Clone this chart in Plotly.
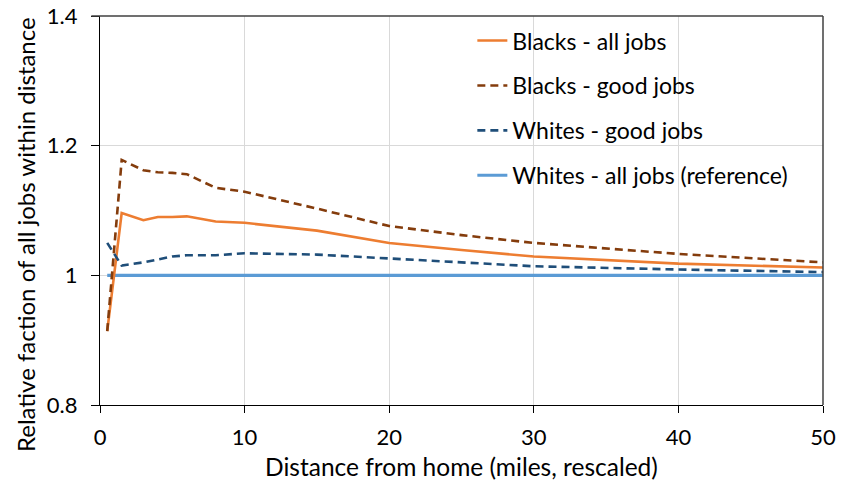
import plotly.graph_objects as go

# Distance from home (miles, rescaled)
distance = [0.5, 1.5, 3, 4, 5, 6, 8, 10, 15, 20, 25, 30, 40, 50]

# Relative faction of all jobs within distance (whites - all jobs = 1)
blacks_all = [0.914, 1.096, 1.085, 1.090, 1.090, 1.091, 1.083, 1.081, 1.069, 1.050, 1.039, 1.029, 1.018, 1.012]
blacks_good = [0.914, 1.178, 1.162, 1.159, 1.158, 1.156, 1.135, 1.129, 1.103, 1.076, 1.062, 1.050, 1.033, 1.020]
whites_good = [1.050, 1.015, 1.020, 1.025, 1.029, 1.031, 1.031, 1.034, 1.032, 1.026, 1.020, 1.014, 1.009, 1.005]
whites_all = [1.0] * len(distance)

x_ticks = [0, 10, 20, 30, 40, 50]
y_ticks = [0.8, 1.0, 1.2, 1.4]
y_tick_text = ["0.8", "1", "1.2", "1.4"]

FONT = "Lato"

series = [
    ("Blacks - all jobs", blacks_all, "#ED7D31", "solid", 2.6),
    ("Blacks - good jobs", blacks_good, "#843C0C", "dash", 2.6),
    ("Whites - good jobs", whites_good, "#1F4E79", "dash", 2.6),
    ("Whites - all jobs (reference)", whites_all, "#5B9BD5", "solid", 3.2),
]

fig = go.Figure()
# reference line drawn first so the others sit on top; legend order kept by rank
order = [3, 0, 1, 2]
for i in order:
    name, ys, color, dash, w = series[i]
    fig.add_trace(go.Scatter(
        x=distance, y=ys, mode="lines", name=name,
        line=dict(color=color, width=w, dash="8px,5px" if dash == "dash" else "solid"),
        legendgroup=f"g{i}", legendrank=i + 1,
    ))

fig.update_layout(
    width=847, height=489,
    margin=dict(l=100, r=24, t=16, b=84, autoexpand=False),
    paper_bgcolor="white", plot_bgcolor="white",
    font=dict(family=FONT, size=22, color="#000000"),
    showlegend=True,
    legend=dict(
        x=0.515, y=0.992, xanchor="left", yanchor="top",
        bgcolor="rgba(255,255,255,0)",
        font=dict(family=FONT, size=23),
        tracegroupgap=12,
        traceorder="grouped",
        itemwidth=30,
    ),
    xaxis=dict(
        range=[0, 50], tickvals=x_ticks, ticktext=[str(v) for v in x_ticks],
        showgrid=True, gridcolor="#D9D9D9", gridwidth=1,
        showline=True, linecolor="#000000", linewidth=1.3,
        ticks="outside", ticklen=7, tickcolor="#000000",
        ticklabelstandoff=5,
        zeroline=False, automargin=False,
        title=dict(text="Distance from home (miles, rescaled)", standoff=10,
                   font=dict(family=FONT, size=24.5)),
        tickfont=dict(family=FONT, size=22),
    ),
    yaxis=dict(
        range=[0.8, 1.4], tickvals=y_ticks, ticktext=y_tick_text,
        showgrid=True, gridcolor="#D9D9D9", gridwidth=1,
        showline=True, linecolor="#000000", linewidth=1.3,
        ticks="outside", ticklen=8, tickcolor="#000000",
        ticklabelstandoff=9,
        zeroline=False, automargin=False,
        tickfont=dict(family=FONT, size=22),
    ),
    annotations=[dict(
        text="Relative faction of all jobs within distance",
        xref="paper", yref="paper", x=-0.1037, y=0.437,
        xanchor="center", yanchor="middle", textangle=-90, showarrow=False,
        font=dict(family=FONT, size=24),
    )],
)

# top and right frame of the plot area
fig.add_shape(type="line", xref="paper", yref="paper", x0=-0.012, x1=1, y0=1, y1=1,
              line=dict(color="#404040", width=1.5))
fig.add_shape(type="line", xref="paper", yref="paper", x0=1, x1=1, y0=0, y1=1,
              line=dict(color="#404040", width=1.5))

fig.write_html("out.html")
